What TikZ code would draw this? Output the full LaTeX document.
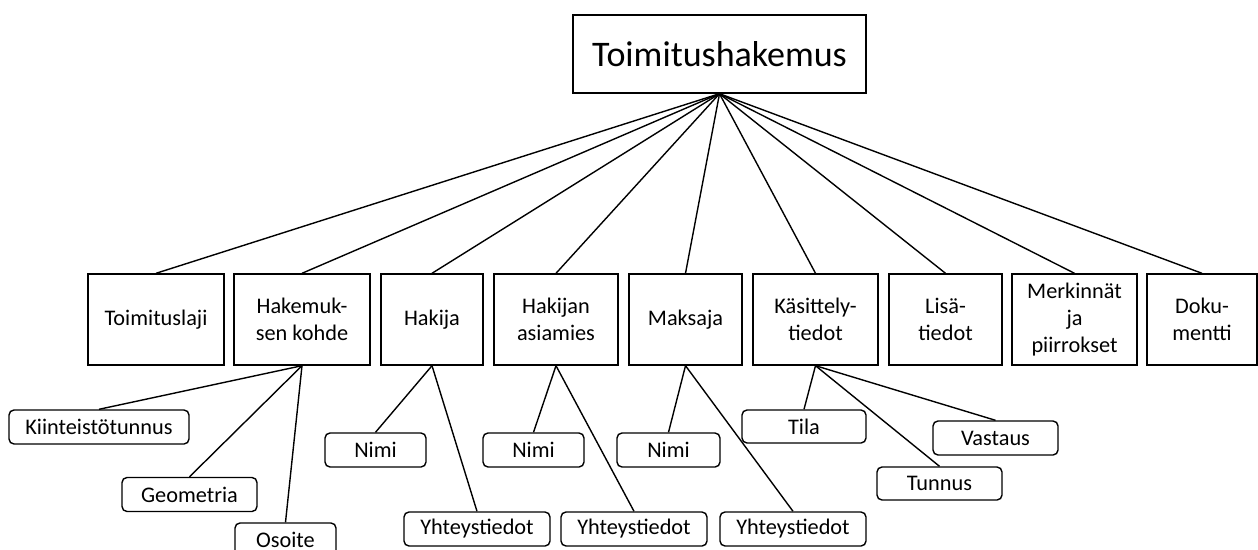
\documentclass[tikz,border=0pt]{standalone}
\usepackage{fontspec}
\setmainfont{Carlito}
\begin{document}
\begin{tikzpicture}[x=1pt,y=-1pt,
  box/.style={draw, line width=1.4pt, fill=white, inner sep=0pt, align=center,
    minimum height=91pt, font=\fontsize{22.3}{27}\selectfont},
  leaf/.style={draw, line width=1.4pt, fill=white, rounded corners=5pt, inner sep=0pt,
    minimum height=34pt, font=\fontsize{22.3}{27}\selectfont},
  rootbox/.style={draw, line width=1.4pt, fill=white, inner sep=0pt,
    minimum width=293pt, minimum height=78pt, font=\fontsize{36}{43}\selectfont},
  link/.style={line width=1.4pt}]
\path[use as bounding box, clip] (0,0) rectangle (1258,549);

\node[rootbox] (root) at (719.5,54) {Toimitushakemus};

\node[box, minimum width=136pt] (t1) at (156,319.5) {Toimituslaji};
\node[box, minimum width=136pt] (t2) at (302,319.5) {Hakemuk-\\sen kohde};
\node[box, minimum width=102pt] (t3) at (432,319.5) {Hakija};
\node[box, minimum width=124pt] (t4) at (556,319.5) {Hakijan\\asiamies};
\node[box, minimum width=113pt] (t5) at (685.5,319.5) {Maksaja};
\node[box, minimum width=125pt] (t6) at (815.5,319.5) {Käsittely-\\tiedot};
\node[box, minimum width=113pt] (t7) at (945.5,319.5) {Lisä-\\tiedot};
\node[box, minimum width=125pt] (t8) at (1074.5,319.5) {Merkinnät\\ja\\piirrokset};
\node[box, minimum width=110pt] (t9) at (1202,319.5) {Doku-\\mentti};

\node[leaf, minimum width=180pt] (k1) at (99,427) {Kiinteistötunnus};
\node[leaf, minimum width=135pt] (k2) at (189.5,494.5) {Geometria};
\node[leaf, minimum width=101pt] (k3) at (285.5,540) {Osoite};
\node[leaf, minimum width=101pt] (h1) at (375.5,450) {Nimi};
\node[leaf, minimum width=146pt] (h2) at (477,529) {Yhteystiedot};
\node[leaf, minimum width=101pt] (a1) at (533.5,450) {Nimi};
\node[leaf, minimum width=146pt] (a2) at (634,529) {Yhteystiedot};
\node[leaf, minimum width=103pt] (m1) at (668.5,450) {Nimi};
\node[leaf, minimum width=146pt] (m2) at (793,529) {Yhteystiedot};
\node[leaf, minimum width=124pt, minimum height=33pt] (c1) at (804,426.5) {Tila};
\node[leaf, minimum width=125pt, minimum height=33pt] (c2) at (939.5,483.5) {Tunnus};
\node[leaf, minimum width=125pt] (c3) at (995.5,438) {Vastaus};

\foreach \t in {t1,t2,t3,t4,t5,t6,t7,t8,t9}
  \draw[link] (root.south) -- (\t.north);
\foreach \p/\c in {t2/k1,t2/k2,t2/k3,t3/h1,t3/h2,t4/a1,t4/a2,t5/m1,t5/m2,t6/c1,t6/c2,t6/c3}
  \draw[link] (\p.south) -- (\c.north);
\end{tikzpicture}
\end{document}
